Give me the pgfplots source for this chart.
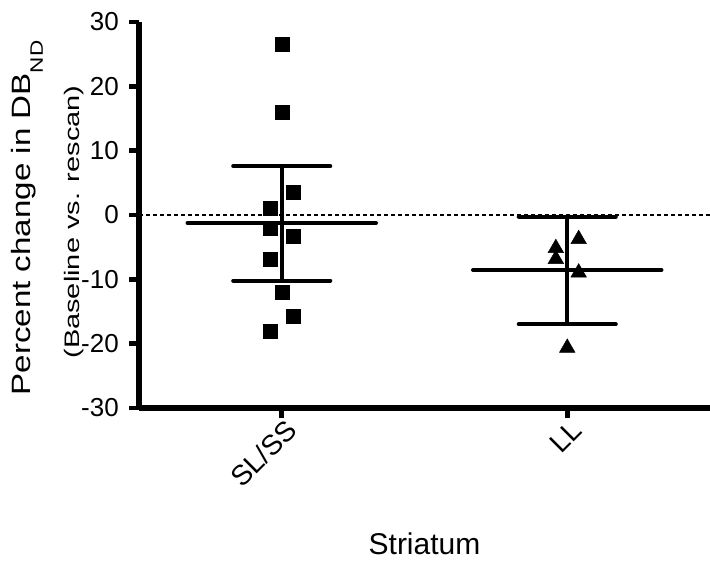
\documentclass[border=0pt]{standalone}
\usepackage{pgfplots}
\pgfplotsset{compat=1.18}
\usepackage{fontspec}
\setmainfont{Liberation Sans}
% the y labels in the reference are stretched along their baseline
\newfontfamily\ylabA[FakeStretch=1.25]{Liberation Sans}
\newfontfamily\ylabB[FakeStretch=1.38]{Liberation Sans}

\begin{document}
\begin{tikzpicture}
    \begin{axis}[
            name=ax,
            scale only axis,
            width=571pt, height=386pt,
            xmin=-0.5, xmax=1.5,
            ymin=-30, ymax=30,
            axis lines=left,
            axis line style={-, line width=5.5pt},
            xtick={0,1},
            xticklabels={SL/SS,LL},
            ytick={-30,-20,...,30},
            tick align=outside,
            major tick length=10pt,
            tick style={line width=4.5pt, black},
            ticklabel style={font=\fontsize{26}{30}\selectfont},
            yticklabel style={inner sep=0pt, xshift=-10pt},
            xticklabel style={rotate=45, anchor=east, inner sep=2pt, xshift=4pt, yshift=-12pt,
                    font=\fontsize{28}{32}\selectfont},
            /pgf/number format/assume math mode=true,
            clip=false,
        ]
        % zero line
        \addplot[black, line width=1.5pt, dash pattern=on 4pt off 3pt] coordinates {(-0.5,0) (1.5,0)};

        % SL/SS
        \addplot[only marks, mark=square*, mark size=7pt, mark options={line width=0.4pt}, black] coordinates {
                (0,26.6) (0,16.0) (0.04,3.5) (-0.04,1.0) (-0.04,-2.0)
                (0.04,-3.3) (-0.04,-6.9) (0,-12.0) (0.04,-15.7) (-0.04,-18.1)
            };
        % mean and SD
        \addplot[black, line width=4pt, line cap=round] coordinates {(-0.33,-1.25) (0.33,-1.25)};
        \addplot[black, line width=4pt, line cap=round] coordinates {(-0.17,7.6) (0.17,7.6)};
        \addplot[black, line width=4pt, line cap=round] coordinates {(-0.17,-10.2) (0.17,-10.2)};
        \addplot[black, line width=4pt] coordinates {(0,7.6) (0,-10.2)};

        % LL
        \addplot[only marks, mark=triangle*, mark size=9pt, mark options={line width=0.4pt, yshift=-2.25pt}, black] coordinates {
                (1.04,-3.4) (0.96,-4.8) (0.96,-6.5) (1.04,-8.6) (1,-20.3)
            };
        \addplot[black, line width=4pt, line cap=round] coordinates {(0.67,-8.56) (1.33,-8.56)};
        \addplot[black, line width=4pt, line cap=round] coordinates {(0.83,-0.25) (1.17,-0.25)};
        \addplot[black, line width=4pt, line cap=round] coordinates {(0.83,-17.0) (1.17,-17.0)};
        \addplot[black, line width=4pt] coordinates {(1,-0.25) (1,-17.0)};
    \end{axis}

    \node[rotate=90, anchor=base, inner sep=0pt] at ([xshift=-108pt, yshift=190pt]ax.south west)
        {\ylabA\fontsize{26.5}{30}\selectfont Percent change in DB\raisebox{-12pt}{\fontsize{18}{20}\selectfont ND}};
    \node[rotate=90, anchor=base, inner sep=0pt] at ([xshift=-59pt, yshift=186pt]ax.south west)
        {\ylabB\fontsize{21}{24}\selectfont (Baseline vs. rescan)};
    \node[anchor=base, inner sep=0pt, font=\fontsize{30}{36}\selectfont] at ([yshift=-147pt]ax.south) {Striatum};

    \pgfresetboundingbox
    \path[use as bounding box] ([xshift=-139pt, yshift=-153pt]ax.south west) rectangle ([yshift=22pt]ax.north east);
\end{tikzpicture}
\end{document}
